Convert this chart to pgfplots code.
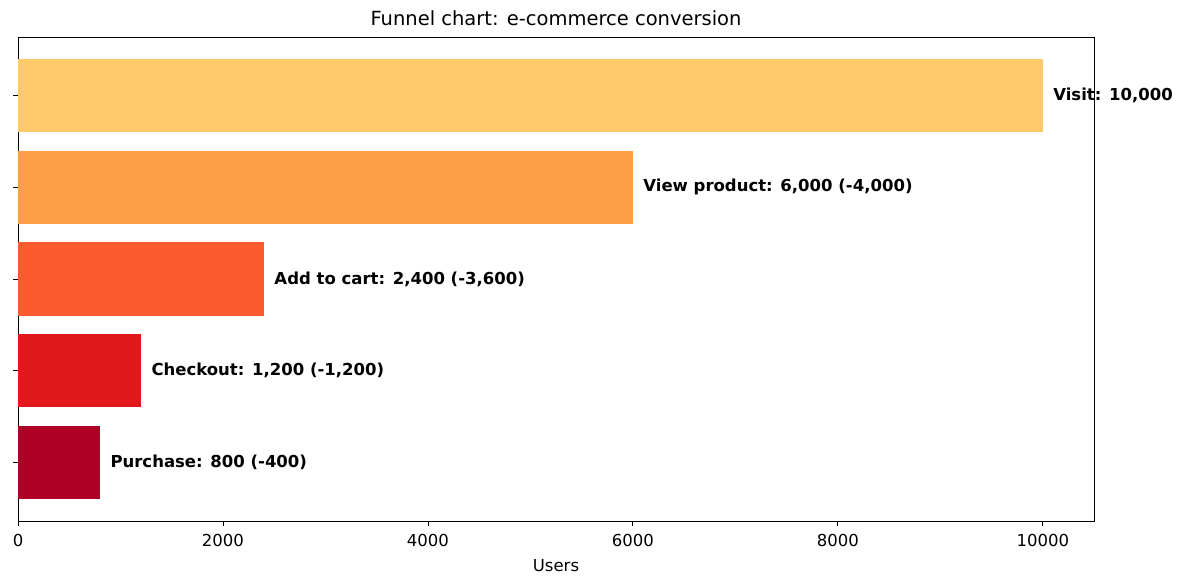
\documentclass[border=0pt]{standalone}
\usepackage{fontspec}
\setmainfont{DejaVu Sans}
\usepackage{pgfplots}
\pgfplotsset{compat=1.18}
\definecolor{cVisit}{HTML}{FECA69}
\definecolor{cView}{HTML}{FD9F46}
\definecolor{cCart}{HTML}{FC5B30}
\definecolor{cCheck}{HTML}{E2191C}
\definecolor{cPurch}{HTML}{B10026}
\begin{document}
\begin{tikzpicture}
\path (-18pt,-67pt) rectangle (1165pt,521pt);
\begin{axis}[
  at={(0,0)}, anchor=south west,
  scale only axis, width=1076pt, height=484pt,
  xbar, bar width=0.8, bar shift=0pt,
  xmin=0, xmax=10500, ymin=-0.64, ymax=4.64,
  xtick={0,2000,4000,6000,8000,10000},
  scaled ticks=false,
  ytick={0,1,2,3,4}, yticklabels={},
  tick pos=left, tick align=outside, major tick length=5pt,
  tick style={black, line width=0.8pt},
  axis line style={line width=0.8pt},
  /pgf/number format/assume math mode=true,
  /pgf/number format/.cd, set thousands separator={}, /pgfplots/.cd,
  xticklabel style={font=\fontsize{16.5}{19}\selectfont, anchor=base, yshift=-21pt},
  title={Funnel chart: e-commerce conversion},
  title style={font=\fontsize{19.5}{22}\selectfont, at={(0.5,1)}, anchor=base, yshift=5pt},
  xlabel={Users},
  xlabel style={font=\fontsize{16.5}{19}\selectfont, at={(0.5,0)}, anchor=base, yshift=-51pt},
  nodes near coords={\pgfplotspointmeta},
  point meta=explicit symbolic,
  nodes near coords style={font=\bfseries\fontsize{16.5}{19}\selectfont, anchor=west, xshift=7pt, black},
  every axis plot/.append style={draw=none},
]
\addplot[fill=cPurch] coordinates {(800,0) [Purchase: 800 (-400)]};
\addplot[fill=cCheck] coordinates {(1200,1) [Checkout: 1,200 (-1,200)]};
\addplot[fill=cCart] coordinates {(2400,2) [Add to cart: 2,400 (-3,600)]};
\addplot[fill=cView] coordinates {(6000,3) [View product: 6,000 (-4,000)]};
\addplot[fill=cVisit] coordinates {(10000,4) [Visit: 10,000]};
\end{axis}
\end{tikzpicture}
\end{document}
